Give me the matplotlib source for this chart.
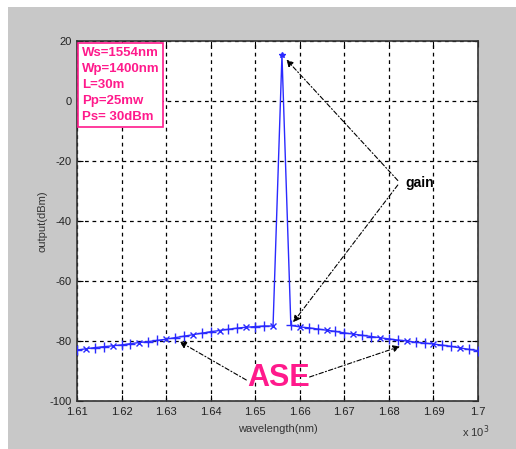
import numpy as np
import matplotlib
matplotlib.use("Agg")
import matplotlib.pyplot as plt
from matplotlib.patches import Rectangle

# wavelength in units of 10^3 nm
wavelength = [1.610, 1.612, 1.614, 1.616, 1.618, 1.620, 1.622, 1.624, 1.626, 1.628,
              1.630, 1.632, 1.634, 1.636, 1.638, 1.640, 1.642, 1.644, 1.646, 1.648,
              1.650, 1.652, 1.654, 1.656, 1.658, 1.660, 1.662, 1.664, 1.666, 1.668,
              1.670, 1.672, 1.674, 1.676, 1.678, 1.680, 1.682, 1.684, 1.686, 1.688,
              1.690, 1.692, 1.694, 1.696, 1.698, 1.700]
output_dbm = [-83.0, -82.6, -82.2, -81.9, -81.6, -81.3, -80.9, -80.5, -80.2, -79.8,
              -79.4, -78.9, -78.4, -77.9, -77.4, -76.9, -76.5, -76.1, -75.7, -75.4,
              -75.2, -75.0, -75.0, 15.3, -74.8, -75.3, -75.6, -76.0, -76.4, -76.8,
              -77.3, -77.7, -78.1, -78.5, -78.9, -79.3, -79.7, -80.0, -80.4, -80.7,
              -81.0, -81.4, -81.8, -82.3, -82.8, -83.2]
peak_index = 23

xticks = [1.61, 1.62, 1.63, 1.64, 1.65, 1.66, 1.67, 1.68, 1.69, 1.70]
xticklabels = ["1.61", "1.62", "1.63", "1.64", "1.65", "1.66", "1.67", "1.68", "1.69", "1.7"]
yticks = [-100, -80, -60, -40, -20, 0, 20]
params = ["Ws=1554nm", "Wp=1400nm", "L=30m", "Pp=25mw", "Ps= 30dBm"]

blue = "#2a2aff"
pink = "#ff1a8c"
plt.rcParams['font.family'] = ['Liberation Sans', 'DejaVu Sans']
plt.rcParams['axes.unicode_minus'] = False

fig = plt.figure(figsize=(5.16, 4.49), dpi=100, facecolor="white")
fig.patches.append(Rectangle((8/516, 0), 1, 1 - 7/449, transform=fig.transFigure,
                             facecolor="#c8c8c8", edgecolor="none", zorder=-10))
ax = fig.add_axes([77/516, 1 - 401/449, 401/516, 360/449])
ax.set_facecolor("white")

x = np.array(wavelength)
y = np.array(output_dbm)
ax.plot(x, y, color=blue, lw=1.0, zorder=3)
base = np.arange(len(x)) != peak_index
plus_idx = np.where(base & (np.arange(len(x)) % 3 != 1))[0]
cross_idx = np.where(base & (np.arange(len(x)) % 3 == 1))[0]
ax.plot(x[plus_idx], y[plus_idx], ls="none", marker="+", ms=7, mew=1.0, color=blue, zorder=4)
ax.plot(x[cross_idx], y[cross_idx], ls="none", marker="x", ms=4.5, mew=1.0, color=blue, zorder=4)
ax.plot(x[peak_index], y[peak_index], ls="none", marker="*", ms=4, color=blue, zorder=4)

ax.set_xlim(1.61, 1.70)
ax.set_ylim(-100, 20)
ax.set_xticks(xticks)
ax.set_xticklabels(xticklabels)
ax.set_yticks(yticks)
ax.tick_params(direction="in", length=4, labelsize=8, labelcolor="#222222", pad=4,
               top=True, right=True)
ax.grid(True, color="black", linestyle=(0, (3, 3)), linewidth=0.9)
for s in ax.spines.values():
    s.set_color("#333333")
    s.set_linewidth(1.2)

ax.set_xlabel("wavelength(nm)", fontsize=8, color="#333333", labelpad=5)
ax.set_ylabel("output(dBm)", fontsize=8, color="#333333", labelpad=1)
fig.text(462/516, 1 - 437/449, r"x 10$^3$", fontsize=8, color="#333333")

ax.text(0.012, 0.983, "\n".join(params), transform=ax.transAxes, va="top", ha="left",
        fontsize=9.5, fontweight="bold", color=pink, linespacing=1.45,
        bbox=dict(boxstyle="square,pad=0.3", facecolor="white", edgecolor=pink, lw=1.2))

arrow = dict(arrowstyle="-|>", color="black", lw=0.8, linestyle=(0, (4, 2, 1, 2)),
             mutation_scale=10, shrinkA=0, shrinkB=0)
ax.text(1.6838, -27.3, "gain", fontsize=10, fontweight="bold", ha="left", va="center")
ax.annotate("", xy=(1.6570, 13.8), xytext=(1.6820, -26.5), arrowprops=arrow)
ax.annotate("", xy=(1.6585, -73.8), xytext=(1.6820, -28.0), arrowprops=arrow)

ax.text(1.6552, -92.5, "ASE", fontsize=22, fontweight="bold", color=pink, ha="center", va="center")
ax.annotate("", xy=(1.6330, -80.2), xytext=(1.6480, -93.0), arrowprops=arrow)
ax.annotate("", xy=(1.6825, -81.8), xytext=(1.6622, -92.0), arrowprops=arrow)

fig.savefig("out.png", dpi=100, facecolor=fig.get_facecolor())
